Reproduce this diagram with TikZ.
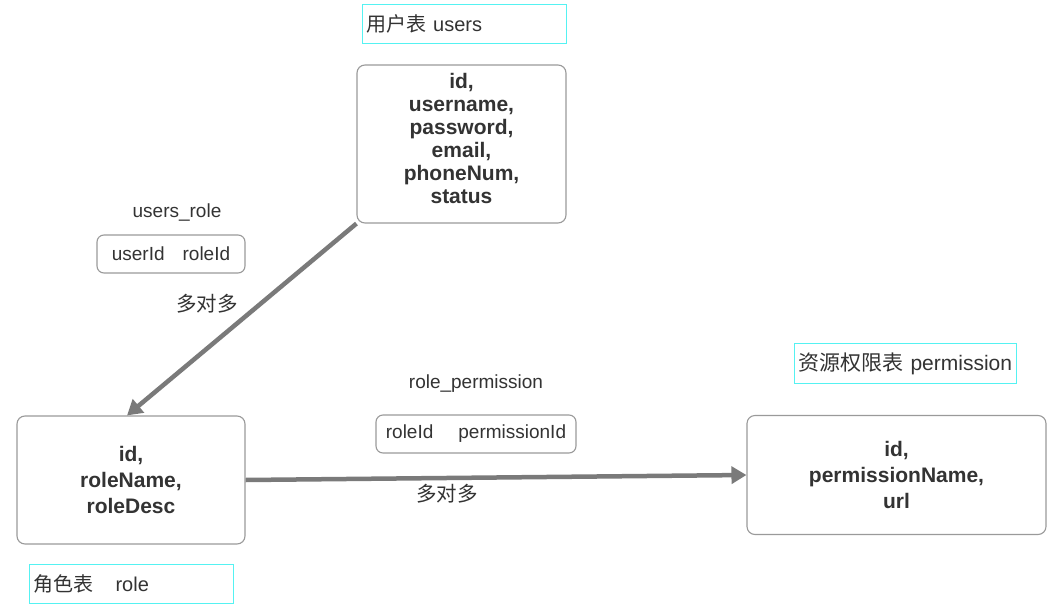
\documentclass[tikz,border=0pt]{standalone}
\usepackage{fontspec}
\setmainfont{Liberation Sans}
\newfontfamily\cjk{Noto Sans CJK SC}
\usetikzlibrary{arrows.meta}
\definecolor{txt}{HTML}{333333}
\definecolor{bord}{HTML}{9A9A9A}
\definecolor{cyanb}{HTML}{55F2F2}
\definecolor{arrc}{HTML}{7A7A7A}
\tikzset{
  entity/.style={draw=bord, line width=1.1pt, rounded corners=8pt, fill=white, text=txt,
    font=\fontsize{21}{23}\selectfont\bfseries, align=center, inner sep=0pt},
  tablebox/.style={draw=bord, line width=1.1pt, rounded corners=7pt, text=txt,
    font=\fontsize{19}{20}\selectfont, inner sep=0pt},
  caption/.style={draw=cyanb, line width=1.1pt, text=txt, font=\fontsize{20}{22}\selectfont,
    align=left, inner xsep=4pt, inner ysep=0pt, anchor=north west},
  plain/.style={text=txt, font=\fontsize{19}{20}\selectfont, inner sep=0pt},
  many/.style={text=txt, font=\cjk\fontsize{20.5}{22}\selectfont, inner sep=0pt},
  rel/.style={draw=arrc, line width=4.5pt, -{Triangle[length=15pt,width=17pt]}},
}
\begin{document}
\begin{tikzpicture}[x=1pt,y=-1pt]
\useasboundingbox[fill=white] (0,0) rectangle (1052,605);
% captions
\node[caption, text width=196pt, minimum height=39pt] (ucap) at (362,4) {{\cjk 用户表} users};
\node[caption, text width=196pt, minimum height=39pt] (rcap) at (29,564) {{\cjk 角色表}\hspace{22pt}role};
\node[caption, text width=214pt, minimum height=40pt, font=\fontsize{21}{22}\selectfont] (pcap) at (794,343) {{\cjk 资源权限表} permission};
% entities
\node[entity, minimum width=209pt, minimum height=158pt] (users) at (461.5,144)
  {id,\\username,\\password,\\email,\\phoneNum,\\status\\[-12pt]};
\node[entity, minimum width=228pt, minimum height=128pt, font=\fontsize{21}{26}\selectfont\bfseries] (role) at (131,480)
  {id,\\roleName,\\roleDesc};
\node[entity, minimum width=299pt, minimum height=119pt, font=\fontsize{21}{26}\selectfont\bfseries] (perm) at (896.5,475)
  {id,\\permissionName,\\url};
% join tables
\node[plain] (urlabel) at (177,213) {users\_role};
\node[tablebox, minimum width=148pt, minimum height=38pt] (ur) at (171,254) {userId\hspace{18pt}roleId};
\node[plain] (rplabel) at (476,384) {role\_permission};
\node[tablebox, minimum width=200pt, minimum height=38pt] (rp) at (476,434) {roleId\hspace{25pt}permissionId};
% relations
\draw[rel] (users.south west) -- ([xshift=-4pt]role.north);
\draw[rel] (role.east) -- (perm.west);
\node[many] (m1) at (207,304) {多对多};
\node[many] (m2) at (447,494) {多对多};
\end{tikzpicture}
\end{document}
